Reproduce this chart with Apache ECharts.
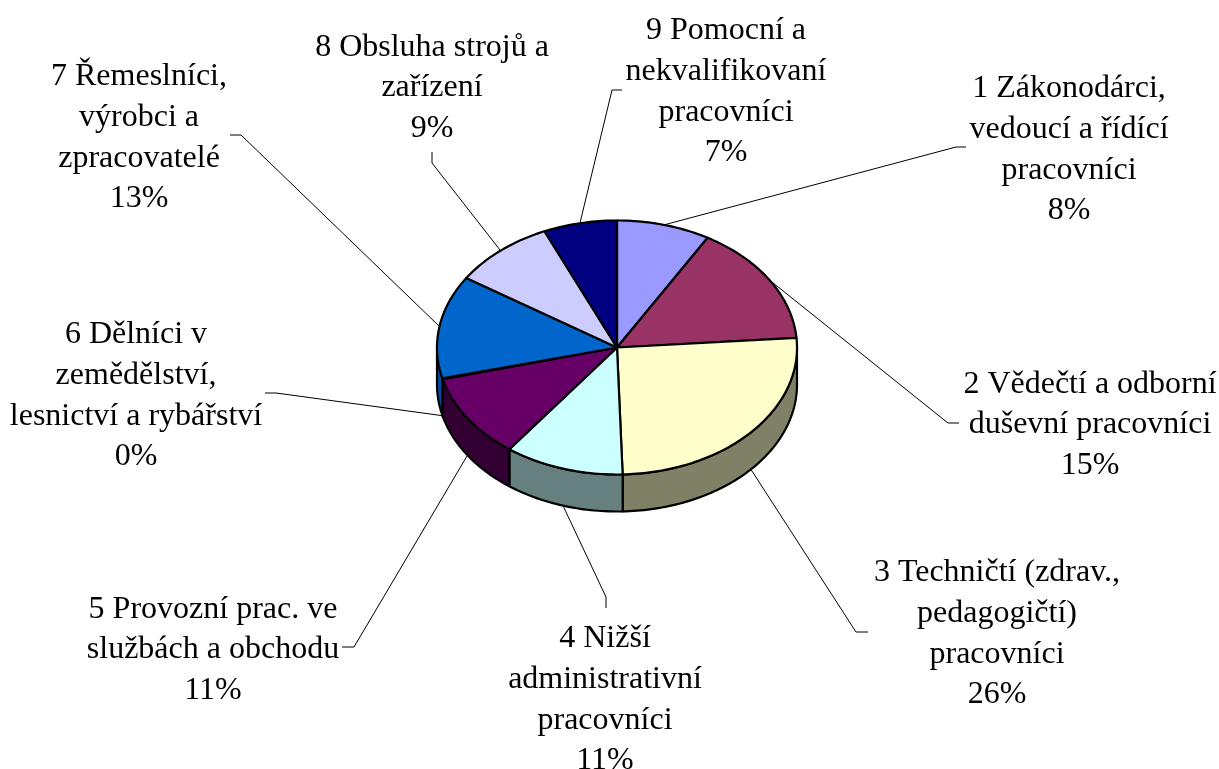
<!DOCTYPE html>
<html>
<head>
<meta charset="utf-8">
<title>Pie</title>
<script src="https://cdn.jsdelivr.net/npm/echarts@6/dist/echarts.min.js"></script>
<style>
    html, body { margin: 0; padding: 0; background: #fff; }
    #chart { width: 1219px; height: 769px; }
</style>
</head>
<body>
<div id="chart"></div>
<script>
// slice sizes in percent
var categories = [
    '1 Zákonodárci,\nvedoucí a řídící\npracovníci',
    '2 Vědečtí a odborní\nduševní pracovníci',
    '3 Techničtí (zdrav.,\npedagogičtí)\npracovníci',
    '4 Nižší\nadministrativní\npracovníci',
    '5 Provozní prac. ve\nslužbách a obchodu',
    '6 Dělníci v\nzemědělství,\nlesnictví a rybářství',
    '7 Řemeslníci,\nvýrobci a\nzpracovatelé',
    '8 Obsluha strojů a\nzařízení',
    '9 Pomocní a\nnekvalifikovaní\npracovníci'
];
var values = [8.4, 15.4, 25.7, 10.7, 10.8, 0.1, 13.1, 9.2, 6.6];
var percentLabels = ['8%', '15%', '26%', '11%', '11%', '0%', '13%', '9%', '7%'];

// colours of the top and of the side wall
var topColors = ['#9999ff', '#993366', '#ffffcc', '#ccffff', '#660066', '#ff8080', '#0066cc', '#ccccff', '#000080'];
var sideColors = ['#4d4d80', '#4d1a33', '#808066', '#668080', '#330033', '#804040', '#004f9e', '#666680', '#000040'];

// label centres, then the elbow and the end of each leader line
var labelCenters = [[1069, 150], [1090, 425], [997, 634], [605, 700], [213, 650], [136, 396], [139, 138], [432, 88], [726, 92]];
var leaderElbows = [[956, 147], [948, 423], [856, 632], [606, 597], [354, 647], [276, 393], [241, 135], [432, 163], [612, 90]];
var leaderEnds = [[966, 147], [959, 423], [868, 632], [606, 608], [342, 647], [265, 393], [230, 135], [432, 152], [622, 90]];

// pie geometry
var cx = 617, cy = 347.5, rx = 180, ry = 127, depth = 37;

var total = 0;
for (var i = 0; i < values.length; i++) {
    total += values[i];
}
// slice start and end angles, clockwise from the top
var sum = 0;
var slices = [];
for (var i = 0; i < values.length; i++) {
    var a0 = sum / total * Math.PI * 2;
    sum += values[i];
    slices.push([i, a0, sum / total * Math.PI * 2]);
}

function edge(api, a) {
    return api.coord([Math.sin(a), Math.cos(a)]);
}

function arc(api, a0, a1, dy) {
    var pts = [];
    var n = Math.max(2, Math.ceil((a1 - a0) / 0.02));
    for (var k = 0; k <= n; k++) {
        var p = edge(api, a0 + (a1 - a0) * k / n);
        pts.push([p[0], p[1] + dy]);
    }
    return pts;
}

function renderSlice(params, api) {
    var i = api.value(0), a0 = api.value(1), a1 = api.value(2);
    var children = [];
    // only the front half of the wall can be seen
    var s0 = Math.max(a0, Math.PI / 2), s1 = Math.min(a1, Math.PI * 1.5);
    if (s1 > s0) {
        children.push({
            type: 'polygon',
            shape: { points: arc(api, s0, s1, 0).concat(arc(api, s0, s1, depth).reverse()) },
            style: { fill: sideColors[i], stroke: '#000', lineWidth: 2.2, lineJoin: 'round' }
        });
    }
    children.push({
        type: 'polygon',
        shape: { points: [api.coord([0, 0])].concat(arc(api, a0, a1, 0)) },
        style: { fill: topColors[i], stroke: '#000', lineWidth: 2.2, lineJoin: 'round' }
    });
    return { type: 'group', children: children };
}

function renderLabel(params, api) {
    var i = api.value(0);
    var mid = (api.value(1) + api.value(2)) / 2;
    var start = edge(api, mid);
    if (Math.cos(mid) < 0) {
        start[1] += depth;
    }
    return {
        type: 'group',
        children: [{
            type: 'polyline',
            shape: { points: [start, leaderElbows[i], leaderEnds[i]] },
            style: { fill: null, stroke: '#000', lineWidth: 1 }
        }, {
            type: 'text',
            style: {
                text: categories[i] + '\n' + percentLabels[i],
                x: labelCenters[i][0],
                y: labelCenters[i][1],
                align: 'center',
                verticalAlign: 'middle',
                fill: '#000',
                fontFamily: '"Liberation Serif", "Times New Roman", serif',
                fontSize: 32,
                lineHeight: 40.7
            }
        }]
    };
}

var chart = echarts.init(document.getElementById('chart'), null, { renderer: 'canvas' });
chart.setOption({
    backgroundColor: '#fff',
    animation: false,
    grid: { left: cx - rx, top: cy - ry, width: rx * 2, height: ry * 2 },
    xAxis: { type: 'value', min: -1, max: 1, show: false },
    yAxis: { type: 'value', min: -1, max: 1, show: false },
    series: [{
        type: 'custom',
        name: 'leaders',
        coordinateSystem: 'cartesian2d',
        renderItem: renderLabel,
        encode: { x: 1, y: 2 },
        data: slices,
        z: 1,
        silent: true
    }, {
        type: 'custom',
        name: 'pie',
        coordinateSystem: 'cartesian2d',
        renderItem: renderSlice,
        encode: { x: 1, y: 2 },
        data: slices,
        z: 2,
        silent: true
    }]
});
</script>
</body>
</html>
